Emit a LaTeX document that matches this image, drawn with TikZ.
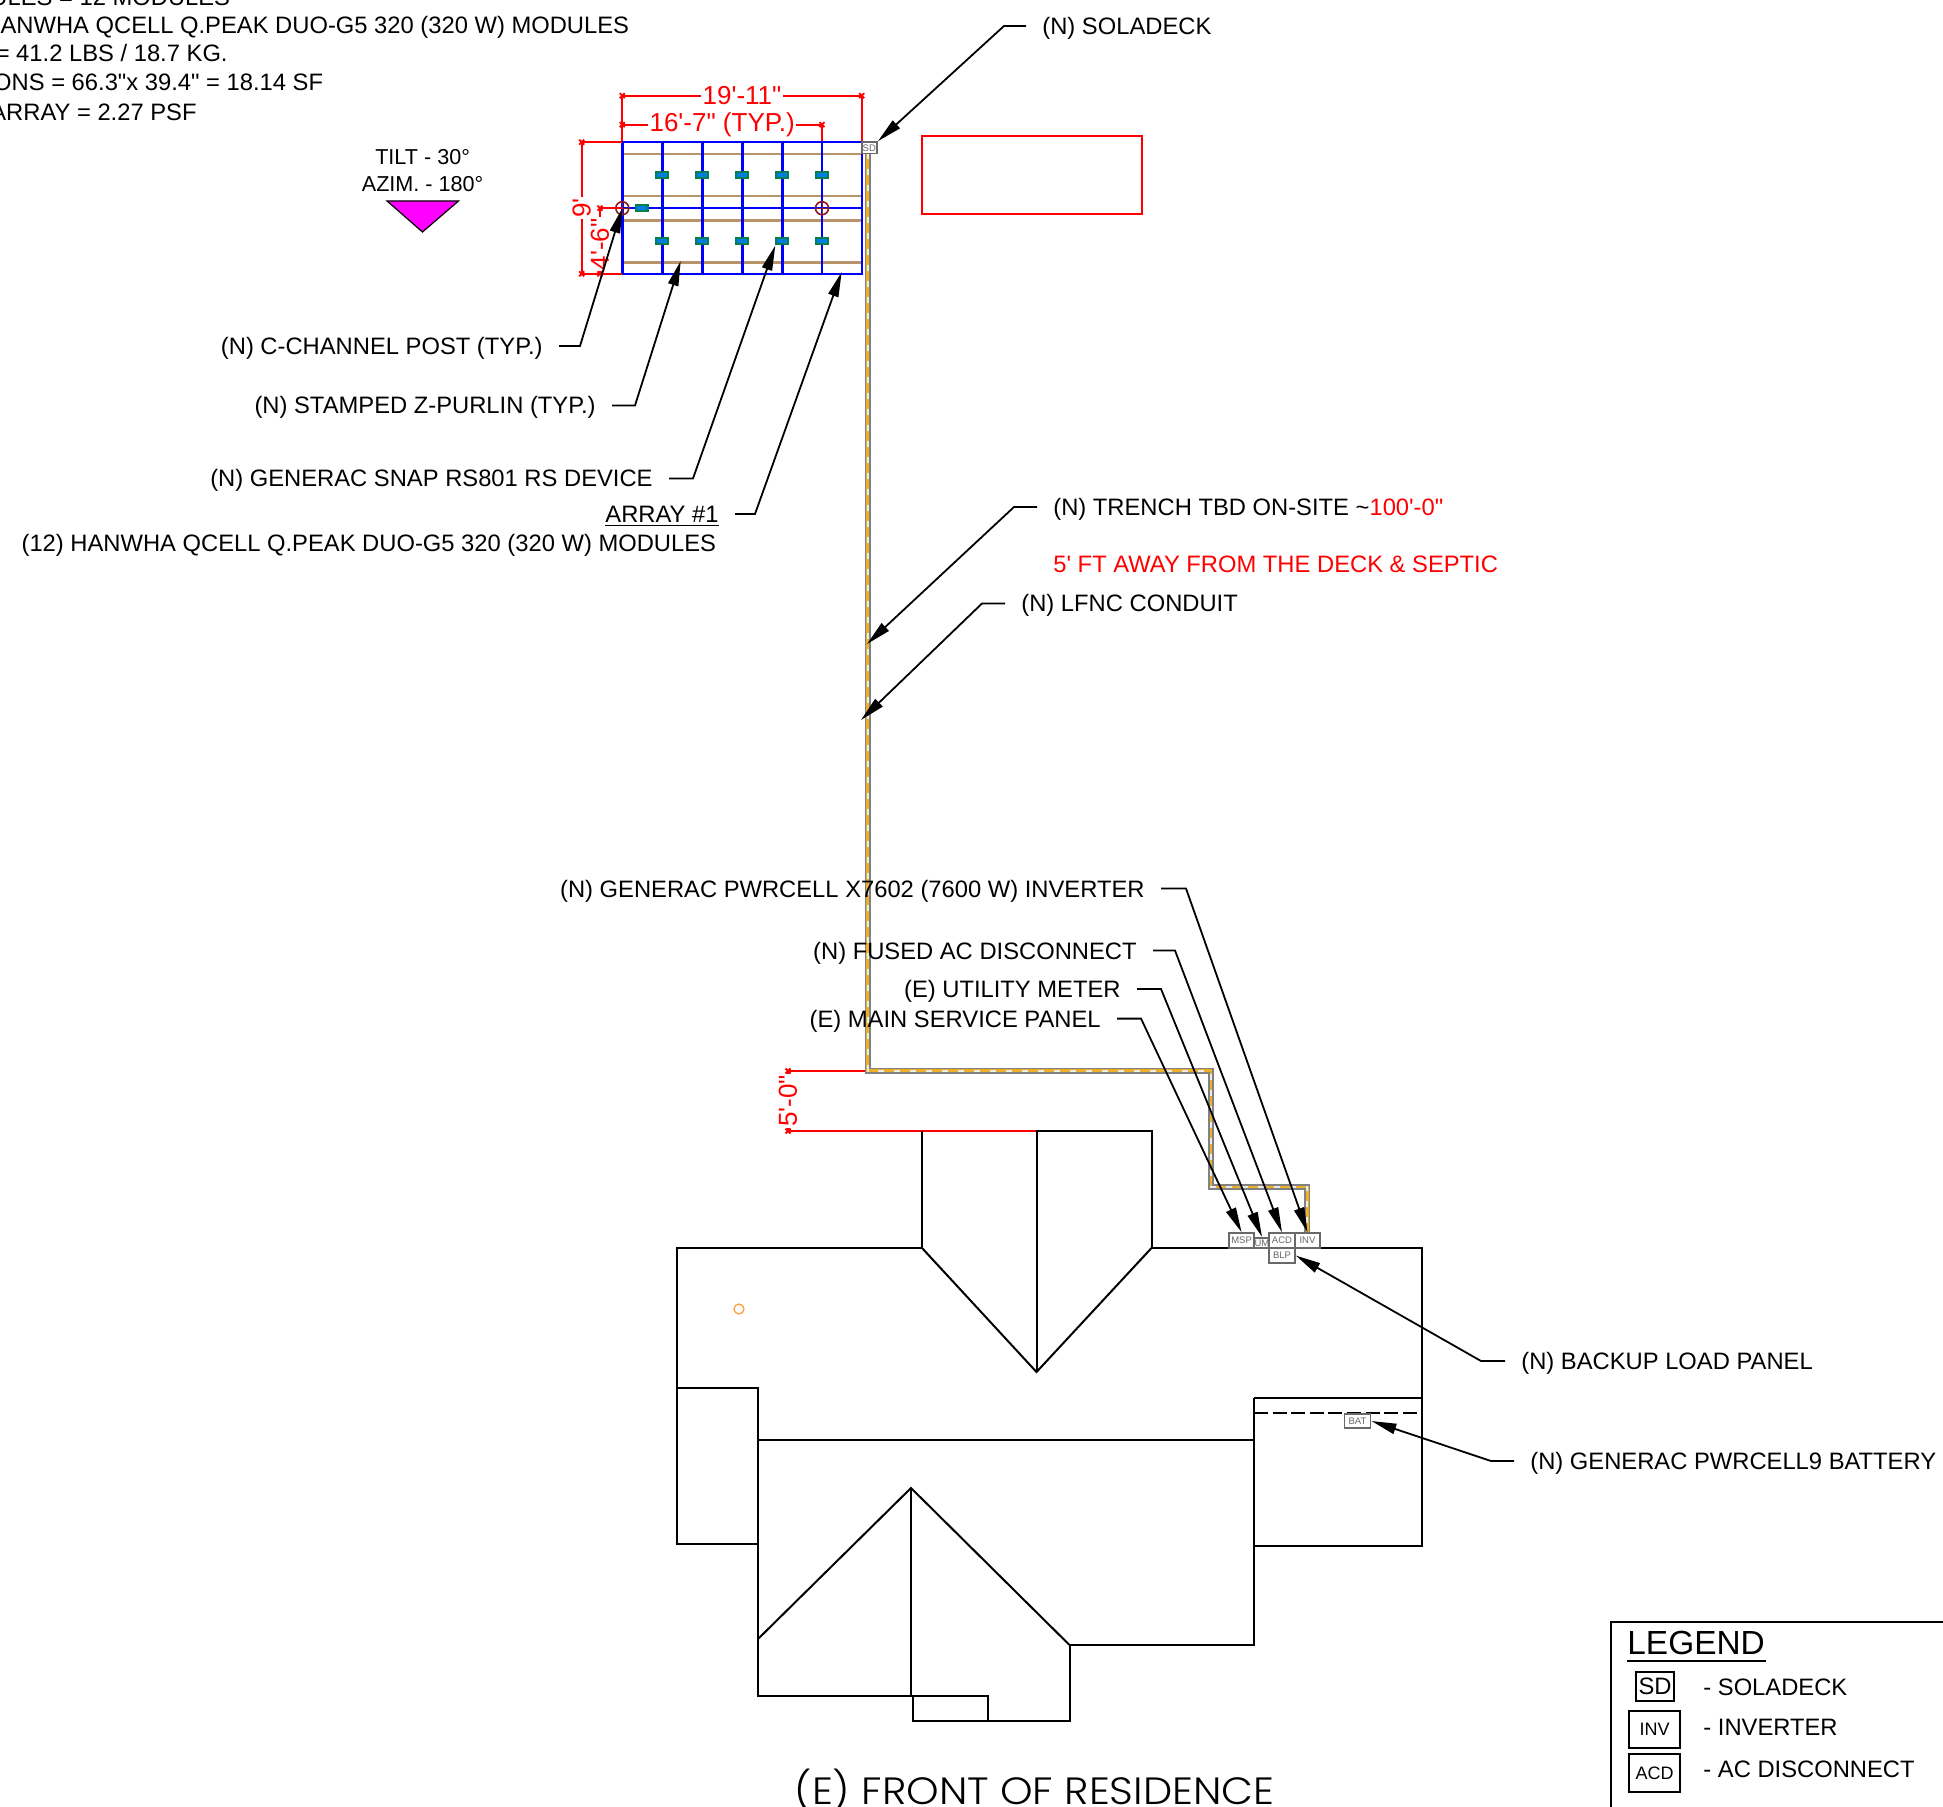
\documentclass[tikz,border=0pt]{standalone}
\usepackage{fontspec}
\usetikzlibrary{arrows.meta}
\newfontfamily\arialfont{Liberation Sans}
\newfontfamily\titlefont{Poppins Light}
\definecolor{dimred}{RGB}{255,0,0}
\definecolor{gridblue}{RGB}{0,0,255}
\definecolor{tiltpink}{RGB}{255,0,255}
\definecolor{purlinbrown}{RGB}{184,148,104}
\definecolor{rsgreen}{RGB}{10,125,80}
\definecolor{rsblue}{RGB}{0,128,230}
\definecolor{postred}{RGB}{140,25,35}
\definecolor{conduitgray}{RGB}{130,130,130}
\definecolor{conduitgold}{RGB}{235,175,40}
\definecolor{boxgray}{RGB}{105,105,105}
\tikzset{
	lbl/.style={font=\arialfont\fontsize{11.88}{14}\selectfont,text height=8.5pt,text depth=0pt,inner ysep=0pt,inner xsep=8pt},
	lblleft/.style={lbl,anchor=east},
	lblright/.style={lbl,anchor=west},
	noteline/.style={lbl,anchor=east,inner xsep=0pt},
	leader/.style={line width=.9pt,-{Triangle[length=12.5pt,width=5.2pt]}},
	dimline/.style={dimred,line width=1.1pt},
	dimlabel/.style={font=\arialfont\fontsize{13}{15}\selectfont,text=dimred,fill=white,inner xsep=.6pt,inner ysep=0pt},
	house/.style={line width=1pt},
	eqbox/.style={draw=boxgray,line width=.9pt,fill=white,text=boxgray,inner sep=0pt,font=\arialfont\fontsize{4.75}{5}\selectfont},
	rsdev/.style={draw=rsgreen,fill=rsblue,line width=1pt,minimum width=6pt,minimum height=3pt,inner sep=0pt},
	postmark/.style={circle,draw=postred,line width=.8pt,minimum size=6.5pt,inner sep=0pt},
	legendbox/.style={draw,line width=.8pt,inner sep=0pt,font=\arialfont\fontsize{9}{10}\selectfont},
	dimtick/.pic={\draw[dimred,line width=.9pt] (-2.5,-2.5) -- (2.5,2.5) (-2.5,2.5) -- (2.5,-2.5);}
}

\begin{document}
\begin{tikzpicture}[x=.5pt,y=-.5pt]
	\useasboundingbox (0,0) rectangle (1943,1807);

	\node[noteline] (noteCount) at (230.5,-3) {ULES = 12 MODULES};
	\node[noteline] (noteModule) at (629.5,25) {ANWHA QCELL Q.PEAK DUO-G5 320 (320 W) MODULES};
	\node[noteline] (noteWeight) at (228,53.5) {= 41.2 LBS / 18.7 KG.};
	\node[noteline] (noteSize) at (323.5,82.5) {ONS = 66.3"x 39.4" = 18.14 SF};
	\node[noteline] (noteLoad) at (197,112) {ARRAY = 2.27 PSF};

	\node[font=\arialfont\fontsize{10.8}{13}\selectfont,align=center,inner sep=0pt] (tiltText) at (422.6,171) {TILT - 30\textdegree\\[.5pt]AZIM. - 180\textdegree};
	\fill[tiltpink,draw=black,line width=.6pt] (387,201) -- (458.5,201) -- (422.5,232) -- cycle;

	\draw[dimred,line width=.9pt] (922,136) rectangle (1142,214);

	\foreach \y in {154.2,196.2,220.5,262.5}
		\draw[purlinbrown,line width=1.1pt] (622.3,\y) -- (861.7,\y);
	\draw[gridblue,line width=1.2pt] (622.3,142.2) rectangle (861.7,273.8);
	\draw[gridblue,line width=1.2pt] (622.3,208.2) -- (861.7,208.2);
	\foreach \x in {662.3,702.3,742.3,782.3,822}
		\draw[gridblue,line width=1.2pt] (\x,142.2) -- (\x,273.8);
	\foreach \x/\n in {662.3/1,702.3/2,742.3/3,782.3/4,822/5}{
		\node[rsdev] (rsTop\n) at (\x,175.2) {};
		\node[rsdev] (rsBot\n) at (\x,241.5) {};
	}
	\node[rsdev] (rsMid) at (642.3,208.2) {};
	\node[postmark] (postA) at (622.3,208.2) {};
	\node[postmark] (postB) at (822,208.2) {};
	\foreach \n in {postA,postB}
		\draw[postred,line width=.5pt] (\n.north) -- (\n.south) (\n.west) -- (\n.east);

	\draw[dimline] (622.3,141.5) -- (622.3,95.7) -- node[dimlabel] (dimTotal) {19'-11"} (861.7,95.7) -- (861.7,141.5);
	\draw[dimline] (622.3,124.7) -- node[dimlabel] (dimTyp) {16'-7" (TYP.)} (822,124.7) -- (822,141.5);
	\draw[dimline] (622,142.2) -- (581.7,142.2) -- node[dimlabel,rotate=90] (dimNine) {9'} (581.7,273.8) -- (622,273.8);
	\draw[dimline] (622,208.2) -- (600,208.2) -- node[dimlabel,rotate=90,pos=.55] (dimHalf) {4'-6"} (600,273.8);
	\draw[dimline] (867,1071) -- (788,1071) -- node[dimlabel,rotate=90] (dimFive) {5'-0"} (788,1131) -- (1036,1131);
	\foreach \x/\y in {622.3/95.7,861.7/95.7,622.3/124.7,822/124.7,581.7/142.2,581.7/273.8,600/208.2,600/273.8,788/1071,788/1131}
		\pic at (\x,\y) {dimtick};

	\draw[house] (1036,1131) -- (1151.5,1131) -- (1151.5,1248) -- (1422,1248) -- (1422,1546) -- (1254,1546) -- (1254,1645) -- (1069.5,1645) -- (1069.5,1721) -- (913,1721) -- (913,1695.5);
	\draw[house] (922,1131) -- (922,1248) -- (676.5,1248) -- (676.5,1543.5) -- (758,1543.5);
	\draw[house] (676.5,1388) -- (758,1388) -- (758,1695.5) -- (988,1695.5) -- (988,1721);
	\draw[house] (758,1440) -- (1254,1440);
	\draw[house] (1254,1398) -- (1254,1546);
	\draw[house] (1254,1398) -- (1422,1398);
	\draw[house] (922,1248) -- (1036.5,1372) -- (1151.5,1248);
	\draw[house] (1036.5,1131) -- (1036.5,1372);
	\draw[house] (758,1639) -- (911,1488) -- (1069.5,1645);
	\draw[house] (911,1488) -- (911,1695.5);
	\draw[house,dashed,dash pattern=on 7pt off 2.3pt] (1254,1413) -- (1422,1413);
	\node[circle,draw=orange!80,line width=.6pt,minimum size=5pt,inner sep=0pt] (vent) at (739,1309) {};

	\coordinate (conduitTop) at (867.7,153);
	\coordinate (conduitEnd) at (1307.3,1232.7);
	\draw[conduitgray,line width=3pt] (conduitTop) -- (867.7,1070.6) -- (1211,1070.6) -- (1211,1187) -- (1307.3,1187) -- (conduitEnd);
	\draw[conduitgold,line width=1.25pt] (conduitTop) -- (867.7,1070.6) -- (1211,1070.6) -- (1211,1187) -- (1307.3,1187) -- (conduitEnd);
	\draw[white!85!gray,line width=.9pt,dash pattern=on 3pt off 5pt] (conduitTop) -- (867.7,1070.6) -- (1211,1070.6) -- (1211,1187) -- (1307.3,1187) -- (conduitEnd);

	\node[eqbox,minimum width=7.7pt,minimum height=5.7pt] (sd) at (869.3,147.8) {SD};
	\node[eqbox,minimum width=12.6pt,minimum height=7.3pt] (msp) at (1241.6,1240.5) {MSP};
	\node[eqbox,minimum width=7.7pt,minimum height=5pt] (um) at (1262,1242.8) {UM};
	\node[eqbox,minimum width=12.8pt,minimum height=7.3pt] (acd) at (1282,1240.5) {ACD};
	\node[eqbox,minimum width=12.6pt,minimum height=7.3pt] (inv) at (1307.5,1240.5) {INV};
	\node[eqbox,minimum width=12.8pt,minimum height=7.6pt] (blp) at (1282,1255.5) {BLP};
	\node[eqbox,minimum width=13pt,minimum height=7pt] (bat) at (1357.5,1421) {BAT};

	\coordinate (purlinTip) at (680.7,261);
	\coordinate (arrayTip) at (841.7,272);
	\coordinate (trenchTip) at (867,644);
	\coordinate (lfncTip) at (861,720);

	\node[lblright] (lblDeck) at (1026,26) {(N) SOLADECK};
	\node[lblleft] (lblPost) at (559,346) {(N) C-CHANNEL POST (TYP.)};
	\node[lblleft] (lblPurlin) at (612,405.5) {(N) STAMPED Z-PURLIN (TYP.)};
	\node[lblleft] (lblRs) at (669,478.5) {(N) GENERAC SNAP RS801 RS DEVICE};
	\node[lblleft] (lblArray) at (735,514) {\underline{ARRAY \#1}};
	\node[lblleft] (lblArrayMod) at (732.5,543) {(12) HANWHA QCELL Q.PEAK DUO-G5 320 (320 W) MODULES};
	\node[lblright] (lblTrench) at (1037,507) {(N) TRENCH TBD ON-SITE \textasciitilde\textcolor{dimred}{100'-0"}};
	\node[lblright,text=dimred] (lblAway) at (1037,564) {5' FT AWAY FROM THE DECK \& SEPTIC};
	\node[lblright] (lblLfnc) at (1005,603.5) {(N) LFNC CONDUIT};
	\node[lblleft] (lblInv) at (1161,888.5) {(N) GENERAC PWRCELL X7602 (7600 W) INVERTER};
	\node[lblleft] (lblAcd) at (1153,950.5) {(N) FUSED AC DISCONNECT};
	\node[lblleft] (lblUm) at (1137,989) {(E) UTILITY METER};
	\node[lblleft] (lblMsp) at (1117,1018.6) {(E) MAIN SERVICE PANEL};
	\node[lblright] (lblBlp) at (1505,1361) {(N) BACKUP LOAD PANEL};
	\node[lblright] (lblBat) at (1514,1461) {(N) GENERAC PWRCELL9 BATTERY};

	\draw[leader] (lblDeck.west) -- ++(-22,0) -- (sd.north east);
	\draw[leader] (lblPost.east) -- ++(21,0) -- (postA.center);
	\draw[leader] (lblPurlin.east) -- ++(23,0) -- (purlinTip);
	\draw[leader] (lblRs.east) -- ++(24,0) -- (rsBot4.south west);
	\draw[leader] (lblArray.east) -- ++(20,0) -- (arrayTip);
	\draw[leader] (lblTrench.west) -- ++(-23,0) -- (trenchTip);
	\draw[leader] (lblLfnc.west) -- ++(-23,0) -- (lfncTip);
	\draw[leader] (lblInv.east) -- ++(25,0) -- (inv.north);
	\draw[leader] (lblAcd.east) -- ++(22,0) -- (acd.north);
	\draw[leader] (lblUm.east) -- ++(24,0) -- (um.north);
	\draw[leader] (lblMsp.east) -- ++(24,0) -- (msp.north);
	\draw[leader] (lblBlp.west) -- ++(-24,0) -- (blp.east);
	\draw[leader] (lblBat.west) -- ++(-23,0) -- (bat.east);

	\node[font=\titlefont\fontsize{19}{22}\selectfont,anchor=base,inner sep=0pt] (titleText) at (1034.5,1804) {\scalebox{1.09}[1]{(E) FRONT OF RESIDENCE}};

	\draw[line width=1pt] (1611,1807) -- (1611,1621.5) -- (1943,1621.5);
	\node[font=\arialfont\fontsize{16.7}{18}\selectfont,anchor=base west,inner sep=0pt] (legendTitle) at (1627,1654) {LEGEND};
	\draw[line width=1pt] (1627,1661) -- (1766,1661);
	\node[legendbox,minimum width=19pt,minimum height=14.5pt,font=\arialfont\fontsize{11.88}{13}\selectfont] (legendSd) at (1655,1686.5) {SD};
	\node[legendbox,minimum width=25.5pt,minimum height=18.5pt] (legendInv) at (1654.5,1729.5) {INV};
	\node[legendbox,minimum width=25.5pt,minimum height=19pt] (legendAcd) at (1654.5,1773) {ACD};
	\node[lbl,anchor=west,inner xsep=0pt] (legendSdText) at (1703,1687) {- SOLADECK};
	\node[lbl,anchor=west,inner xsep=0pt] (legendInvText) at (1703,1727) {- INVERTER};
	\node[lbl,anchor=west,inner xsep=0pt] (legendAcdText) at (1703,1769) {- AC DISCONNECT};
\end{tikzpicture}
\end{document}
